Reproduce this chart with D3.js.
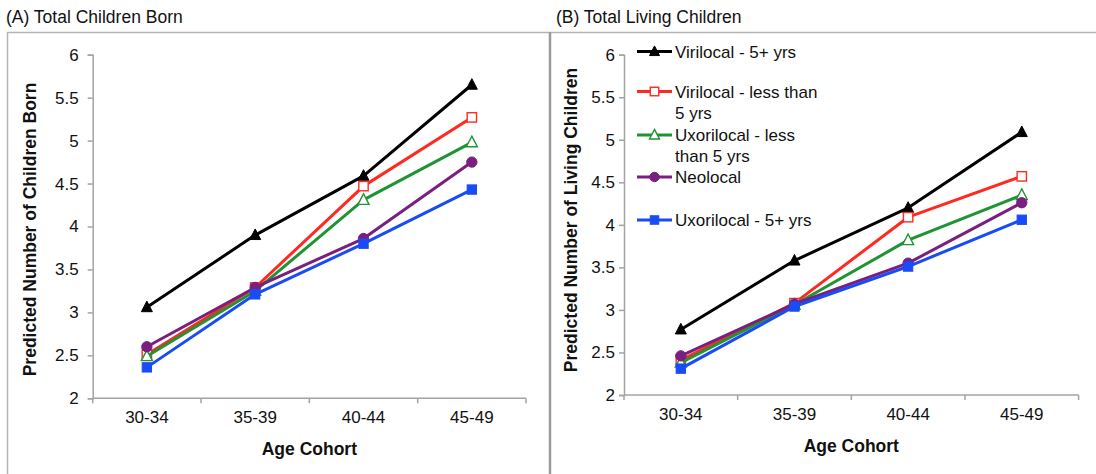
<!DOCTYPE html>
<html>
<head>
<meta charset="utf-8">
<script src="https://cdn.jsdelivr.net/npm/d3@7"></script>
<style>
  html, body { margin: 0; padding: 0; background: #fff; }
  svg { display: block; font-family: "Liberation Sans", Arial, sans-serif; }
</style>
</head>
<body>
<svg id="chart" width="1096" height="474"></svg>
<script>
// ---------- data ----------
const categories = ["30-34", "35-39", "40-44", "45-49"];
const yTicks = [2, 2.5, 3, 3.5, 4, 4.5, 5, 5.5, 6];
const seriesNames = [
  "Virilocal - 5+ yrs",
  "Virilocal - less than 5 yrs",
  "Uxorilocal - less than 5 yrs",
  "Neolocal",
  "Uxorilocal - 5+ yrs"
];
const legendLines = [
  ["Virilocal - 5+ yrs"],
  ["Virilocal - less than", "5 yrs"],
  ["Uxorilocal - less", "than 5 yrs"],
  ["Neolocal"],
  ["Uxorilocal - 5+ yrs"]
];
// (A) Total Children Born
const bornVirilocal5   = [3.06, 3.90, 4.59, 5.65];
const bornVirilocalLt5 = [2.51, 3.29, 4.47, 5.27];
const bornUxorilocalLt5= [2.49, 3.25, 4.31, 4.98];
const bornNeolocal     = [2.60, 3.29, 3.86, 4.75];
const bornUxorilocal5  = [2.36, 3.21, 3.80, 4.43];
// (B) Total Living Children
const livVirilocal5    = [2.77, 3.58, 4.20, 5.09];
const livVirilocalLt5  = [2.41, 3.08, 4.09, 4.57];
const livUxorilocalLt5 = [2.38, 3.06, 3.82, 4.35];
const livNeolocal      = [2.46, 3.07, 3.55, 4.26];
const livUxorilocal5   = [2.31, 3.04, 3.51, 4.06];

const bornSeries = [bornVirilocal5, bornVirilocalLt5, bornUxorilocalLt5, bornNeolocal, bornUxorilocal5];
const livSeries  = [livVirilocal5, livVirilocalLt5, livUxorilocalLt5, livNeolocal, livUxorilocal5];

// ---------- styles ----------
const colors  = ["#000000", "#ff2a1f", "#1e9433", "#7a1f80", "#1a4cf5"];
const markers = ["triFilled", "squareOpen", "triOpen", "circle", "squareFilled"];
const axisColor = "#a3a3a3";
const FONT = 17;

const svg = d3.select("#chart");

// panel frames
svg.append("line").attr("x1", 7.5).attr("x2", 7.5).attr("y1", 32.5).attr("y2", 474)
  .attr("stroke", "#b4b4b4").attr("stroke-width", 1.5);
svg.append("line").attr("x1", 7).attr("x2", 1096).attr("y1", 32.5).attr("y2", 32.5)
  .attr("stroke", "#b4b4b4").attr("stroke-width", 1.5);
svg.append("line").attr("x1", 550).attr("x2", 550).attr("y1", 32).attr("y2", 474)
  .attr("stroke", "#9a9a9a").attr("stroke-width", 2.5);

// titles
svg.append("text").attr("x", 6).attr("y", 23).attr("font-size", 17.5).attr("fill", "#111")
  .text("(A) Total Children Born");
svg.append("text").attr("x", 556).attr("y", 23).attr("font-size", 17.5).attr("fill", "#111")
  .text("(B) Total Living Children");

function drawMarker(g, type, color, cx, cy, size) {
  const s = size;
  if (type === "triFilled" || type === "triOpen") {
    const h = s * 0.9;
    g.append("path")
      .attr("d", `M${cx},${cy - h * 0.62}L${cx + s / 2},${cy + h * 0.45}L${cx - s / 2},${cy + h * 0.45}Z`)
      .attr("fill", type === "triFilled" ? color : "#fff")
      .attr("stroke", color).attr("stroke-width", type === "triFilled" ? 1 : 1.4);
  } else if (type === "squareOpen" || type === "squareFilled") {
    const w = s * 0.85;
    g.append("rect").attr("x", cx - w / 2).attr("y", cy - w / 2).attr("width", w).attr("height", w)
      .attr("fill", type === "squareFilled" ? color : "#fff")
      .attr("stroke", color).attr("stroke-width", type === "squareFilled" ? 1 : 1.4);
  } else {
    g.append("circle").attr("cx", cx).attr("cy", cy).attr("r", s * 0.47)
      .attr("fill", color).attr("stroke", color).attr("stroke-width", 1);
  }
}

function panel(opts) {
  const { x0, x1, yTop, yBot, series, yTitle, yTitleX, yTitleY, tickPad } = opts;
  const g = svg.append("g");
  const x = d3.scaleBand().domain(categories).range([x0, x1]).paddingInner(0).paddingOuter(0);
  const y = d3.scaleLinear().domain([2, 6]).range([yBot, yTop]);

  // y axis
  const ya = g.append("g").attr("transform", `translate(${x0},0)`)
    .call(d3.axisLeft(y).tickValues(yTicks).tickSize(5).tickPadding(tickPad).tickFormat(d => String(d)));
  ya.select(".domain").attr("stroke", axisColor).attr("stroke-width", 1.5);
  ya.selectAll(".tick line").attr("stroke", axisColor).attr("stroke-width", 1.5);
  ya.selectAll(".tick text").attr("font-size", FONT).attr("fill", "#111")
    .attr("font-family", '"Liberation Sans", Arial, sans-serif');

  // x axis: labels at band centres, tick marks at band edges
  const xa = g.append("g").attr("transform", `translate(0,${yBot})`)
    .call(d3.axisBottom(x).tickSize(0).tickPadding(13).tickSizeOuter(0));
  xa.select(".domain").remove();
  xa.selectAll(".tick text").attr("font-size", FONT).attr("fill", "#111")
    .attr("font-family", '"Liberation Sans", Arial, sans-serif');
  g.append("line").attr("x1", x0).attr("x2", x1).attr("y1", yBot).attr("y2", yBot)
    .attr("stroke", axisColor).attr("stroke-width", 1.5);
  const edges = categories.map(c => x(c)).concat([x.range()[1]]);
  g.selectAll(".xedge").data(edges).enter().append("line")
    .attr("x1", d => d).attr("x2", d => d).attr("y1", yBot).attr("y2", yBot + 5)
    .attr("stroke", axisColor).attr("stroke-width", 1.5);

  // axis titles
  g.append("text").attr("transform", `translate(${yTitleX},${yTitleY}) rotate(-90)`)
    .attr("text-anchor", "middle").attr("font-size", 17.5).attr("font-weight", "bold").attr("fill", "#111")
    .text(yTitle);
  g.append("text").attr("x", (x0 + x1) / 2).attr("y", yBot + 57)
    .attr("text-anchor", "middle").attr("font-size", 17.5).attr("font-weight", "bold").attr("fill", "#111")
    .text("Age Cohort");

  const cx = c => x(c) + x.bandwidth() / 2;
  const line = d3.line().x((d, i) => cx(categories[i])).y(d => y(d));
  series.forEach((vals, si) => {
    const sg = g.append("g");
    sg.append("path").attr("d", line(vals)).attr("fill", "none")
      .attr("stroke", colors[si]).attr("stroke-width", 3).attr("stroke-linejoin", "round");
    vals.forEach((v, i) => drawMarker(sg, markers[si], colors[si], cx(categories[i]), y(v), 11));
  });
  return g;
}

panel({ x0: 92.7, x1: 526, yTop: 54.7, yBot: 398.3, series: bornSeries,
  yTitle: "Predicted Number of Children Born", yTitleX: 36, yTitleY: 229.5, tickPad: 9 });
panel({ x0: 624, x1: 1078.6, yTop: 54.7, yBot: 395, series: livSeries,
  yTitle: "Predicted Number of Living Children", yTitleX: 577, yTitleY: 220, tickPad: 4 });

// legend
const legY = [51.5, 91.5, 135, 177, 220];
const lg = svg.append("g");
seriesNames.forEach((name, i) => {
  const yy = legY[i];
  lg.append("line").attr("x1", 637).attr("x2", 672).attr("y1", yy).attr("y2", yy)
    .attr("stroke", colors[i]).attr("stroke-width", 3);
  drawMarker(lg, markers[i], colors[i], 654.5, yy, 10);
  const t = lg.append("text").attr("x", 675).attr("y", yy + 6).attr("font-size", FONT).attr("fill", "#111");
  legendLines[i].forEach((ln, k) => {
    t.append("tspan").attr("x", 675).attr("dy", k === 0 ? 0 : 21).text(ln);
  });
});
</script>
</body>
</html>
